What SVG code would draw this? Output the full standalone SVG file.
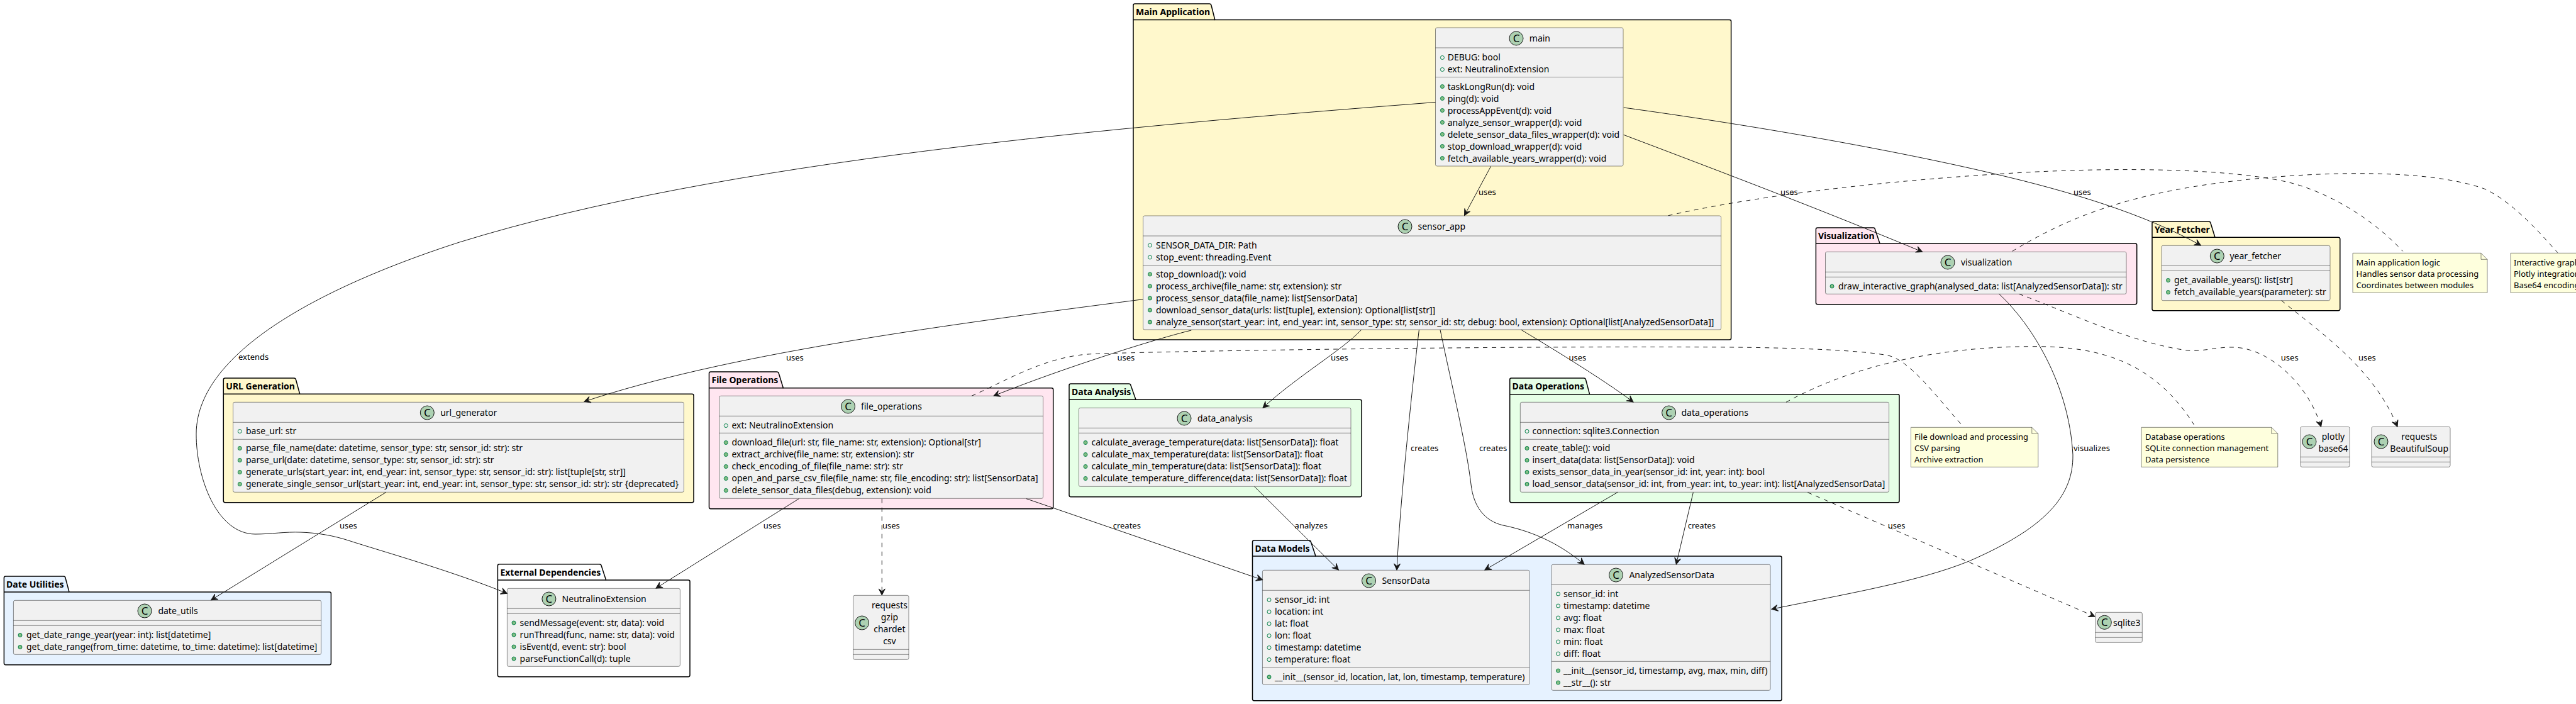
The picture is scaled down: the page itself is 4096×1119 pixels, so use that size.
<svg xmlns="http://www.w3.org/2000/svg" width="4096" height="1119" viewBox="0 0 4096 1119">
<style>
text{font-family:"Noto Sans","Open Sans",sans-serif;fill:#000}
.m{font-size:14px}
.n{font-size:14px}
.t{font-size:14px;font-weight:700}
.l{font-size:13px}
.o{font-size:13px}
.ct{text-anchor:middle}
.c{font-size:17px;text-anchor:middle}
.b{fill:#f1f1f1;stroke:#181818;stroke-width:.5}
.d{stroke:#181818;stroke-width:.5;fill:none}
.i{fill:#add1b2;stroke:#181818;stroke-width:1}
.fd{fill:none;stroke:#038048;stroke-width:1}
.md{fill:#84be84;stroke:#038048;stroke-width:1}
.p{stroke:#000;stroke-width:1.5}
.y{fill:#fff8cc}
.k{fill:#ffe6f0}
.g{fill:#e6ffe6}
.s{fill:#e6f2ff}
.w{fill:#fff}
.nt{fill:#feffdd;stroke:#181818;stroke-width:.5}
.a{fill:none;stroke:#181818;stroke-width:1;marker-end:url(#h)}
.e{fill:none;stroke:#181818;stroke-width:1;stroke-dasharray:7 7;marker-end:url(#h)}
.q{fill:none;stroke:#181818;stroke-width:1;stroke-dasharray:7 7}
</style>
<defs>
<marker id="h" markerUnits="userSpaceOnUse" markerWidth="14" markerHeight="12" refX="10" refY="5" orient="auto" overflow="visible"><path d="M10 5L0 0L4 5L0 10Z" fill="#181818" stroke="#181818" stroke-width="1"/></marker>
</defs>

<g id="pkg-main">
<path class="p y" d="M1802 31.5V8.5Q1802 6 1804.500 6H1923Q1925.400 6 1926 8.500L1931.800 31.500H2750Q2752.600 31.500 2752.600 34V537.500Q2752.600 540 2750 540H1804.500Q1802 540 1802 537.500Z"/><path class="p" d="M1802 31.500H1931.800"/>
<text class="t" x="1806" y="24">Main Application</text>
<g id="main">
<rect class="b" x="2282.500" y="44" width="298.500" height="220" rx="2.500"/>
<path class="d" d="M2282.500 76H2581M2282.500 122.500H2581"/>
<circle class="i" cx="2411" cy="61" r="11"/><text class="c" x="2411" y="67">C</text>
<text class="n" x="2431.800" y="66">main</text>
<circle class="fd" cx="2293.400" cy="91.500" r="3"/><text class="m" x="2301.700" y="96">DEBUG: bool</text>
<circle class="fd" cx="2293.400" cy="110.500" r="3"/><text class="m" x="2301.700" y="115">ext: NeutralinoExtension</text>
<circle class="md" cx="2293.400" cy="137.500" r="3"/><text class="m" x="2301.700" y="142.500">taskLongRun(d): void</text>
<circle class="md" cx="2293.400" cy="156.500" r="3"/><text class="m" x="2301.700" y="161.500">ping(d): void</text>
<circle class="md" cx="2293.400" cy="175.500" r="3"/><text class="m" x="2301.700" y="180.500">processAppEvent(d): void</text>
<circle class="md" cx="2293.400" cy="194.500" r="3"/><text class="m" x="2301.700" y="199.500">analyze_sensor_wrapper(d): void</text>
<circle class="md" cx="2293.400" cy="213.500" r="3"/><text class="m" x="2301.700" y="218.500">delete_sensor_data_files_wrapper(d): void</text>
<circle class="md" cx="2293.400" cy="232.500" r="3"/><text class="m" x="2301.700" y="237.500">stop_download_wrapper(d): void</text>
<circle class="md" cx="2293.400" cy="251.500" r="3"/><text class="m" x="2301.700" y="256.500">fetch_available_years_wrapper(d): void</text>
</g>
<g id="sensor_app">
<rect class="b" x="1817.600" y="343" width="919" height="181" rx="2.500"/>
<path class="d" d="M1817.600 375H2736.600M1817.600 422H2736.600"/>
<circle class="i" cx="2234" cy="360" r="11"/><text class="c" x="2234" y="366">C</text>
<text class="n" x="2254.500" y="365">sensor_app</text>
<circle class="fd" cx="1828.500" cy="390" r="3"/><text class="m" x="1838" y="394.500">SENSOR_DATA_DIR: Path</text>
<circle class="fd" cx="1828.500" cy="409" r="3"/><text class="m" x="1838" y="413.500">stop_event: threading.Event</text>
<circle class="md" cx="1828.500" cy="436" r="3"/><text class="m" x="1838" y="440.500">stop_download(): void</text>
<circle class="md" cx="1828.500" cy="455" r="3"/><text class="m" x="1838" y="459.500">process_archive(file_name: str, extension): str</text>
<circle class="md" cx="1828.500" cy="474" r="3"/><text class="m" x="1838" y="478.500">process_sensor_data(file_name): list[SensorData]</text>
<circle class="md" cx="1828.500" cy="493" r="3"/><text class="m" x="1838" y="497.500">download_sensor_data(urls: list[tuple], extension): Optional[list[str]]</text>
<circle class="md" cx="1828.500" cy="512" r="3"/><text class="m" x="1838" y="516.500">analyze_sensor(start_year: int, end_year: int, sensor_type: str, sensor_id: str, debug: bool, extension): Optional[list[AnalyzedSensorData]]</text>
</g>
</g>

<g id="pkg-visualization">
<path class="p k" d="M2887.400 387V364.500Q2887.400 362 2890 362H2979Q2981 362 2981.500 364.500L2989 387H3395Q3397.700 387 3397.700 389.500V481Q3397.700 483.700 3395 483.700H2890Q2887.400 483.700 2887.400 481Z"/><path class="p" d="M2887.400 387H2989"/>
<text class="t" x="2891" y="379.500">Visualization</text>
<g id="visualization">
<rect class="b" x="2902.500" y="400.300" width="478.500" height="67" rx="2.500"/>
<path class="d" d="M2902.500 432.300H3381M2902.500 440.300H3381"/>
<circle class="i" cx="3097" cy="417" r="11"/><text class="c" x="3097" y="423">C</text>
<text class="n" x="3118" y="422">visualization</text>
<circle class="md" cx="2913" cy="455" r="3"/><text class="m" x="2923" y="459.500">draw_interactive_graph(analysed_data: list[AnalyzedSensorData]): str</text>
</g>
</g>

<g id="pkg-year-fetcher">
<path class="p y" d="M3422 377.300V354.500Q3422 352 3424.500 352H3512Q3514.400 352 3515 354.500L3522 377.300H3718Q3720.800 377.300 3720.800 380V491Q3720.800 493.700 3718 493.700H3424.500Q3422 493.700 3422 491Z"/><path class="p" d="M3422 377.300H3522"/>
<text class="t" x="3426" y="369.500">Year Fetcher</text>
<g id="year_fetcher">
<rect class="b" x="3437" y="390.300" width="268" height="87.400" rx="2.500"/>
<path class="d" d="M3437 422.300H3705M3437 430.300H3705"/>
<circle class="i" cx="3525.300" cy="407" r="11"/><text class="c" x="3525.300" y="413">C</text>
<text class="n" x="3545.400" y="412">year_fetcher</text>
<circle class="md" cx="3447.500" cy="445.500" r="3"/><text class="m" x="3457" y="450">get_available_years(): list[str]</text>
<circle class="md" cx="3447.500" cy="464.500" r="3"/><text class="m" x="3457" y="469">fetch_available_years(parameter): str</text>
</g>
</g>

<g id="pkg-url">
<path class="p y" d="M355.300 626.300V603.500Q355.300 601 358 601H467.500Q470 601 470.500 603.500L476.700 626.300H1100.500Q1103 626.300 1103 629V796Q1103 798.700 1100.500 798.700H358Q355.300 798.700 355.300 796Z"/><path class="p" d="M355.300 626.300H476.700"/>
<text class="t" x="359.300" y="618.500">URL Generation</text>
<g id="url_generator">
<rect class="b" x="370.600" y="639.300" width="716.800" height="143" rx="2.500"/>
<path class="d" d="M370.600 671.300H1087.400M370.600 698.300H1087.400"/>
<circle class="i" cx="679.300" cy="656" r="11"/><text class="c" x="679.300" y="662">C</text>
<text class="n" x="700.200" y="661">url_generator</text>
<circle class="fd" cx="381.300" cy="685.500" r="3"/><text class="m" x="391" y="690">base_url: str</text>
<circle class="md" cx="381.300" cy="712.500" r="3"/><text class="m" x="391" y="717">parse_file_name(date: datetime, sensor_type: str, sensor_id: str): str</text>
<circle class="md" cx="381.300" cy="731.500" r="3"/><text class="m" x="391" y="736">parse_url(date: datetime, sensor_type: str, sensor_id: str): str</text>
<circle class="md" cx="381.300" cy="750.500" r="3"/><text class="m" x="391" y="755">generate_urls(start_year: int, end_year: int, sensor_type: str, sensor_id: str): list[tuple[str, str]]</text>
<circle class="md" cx="381.300" cy="769.500" r="3"/><text class="m" x="391" y="774">generate_single_sensor_url(start_year: int, end_year: int, sensor_type: str, sensor_id: str): str {deprecated}</text>
</g>
</g>

<g id="pkg-file">
<path class="p k" d="M1127.500 616.700V593.500Q1127.500 591 1130 591H1235Q1237.700 591 1238.300 593.500L1245.400 616.700H1672Q1674.700 616.700 1674.700 619.200V806Q1674.700 808.700 1672 808.700H1130Q1127.500 808.700 1127.500 806Z"/><path class="p" d="M1127.500 616.700H1245.400"/>
<text class="t" x="1131.500" y="609">File Operations</text>
<g id="file_operations">
<rect class="b" x="1143.700" y="629.300" width="514.900" height="163" rx="2.500"/>
<path class="d" d="M1143.700 661.300H1658.600M1143.700 688.300H1658.600"/>
<circle class="i" cx="1348.500" cy="646" r="11"/><text class="c" x="1348.500" y="652">C</text>
<text class="n" x="1368.900" y="651">file_operations</text>
<circle class="fd" cx="1154.300" cy="676.500" r="3"/><text class="m" x="1163.500" y="681">ext: NeutralinoExtension</text>
<circle class="md" cx="1154.300" cy="703.500" r="3"/><text class="m" x="1163.500" y="708">download_file(url: str, file_name: str, extension): Optional[str]</text>
<circle class="md" cx="1154.300" cy="722.500" r="3"/><text class="m" x="1163.500" y="727">extract_archive(file_name: str, extension): str</text>
<circle class="md" cx="1154.300" cy="741.500" r="3"/><text class="m" x="1163.500" y="746">check_encoding_of_file(file_name: str): str</text>
<circle class="md" cx="1154.300" cy="760.500" r="3"/><text class="m" x="1163.500" y="765">open_and_parse_csv_file(file_name: str, file_encoding: str): list[SensorData]</text>
<circle class="md" cx="1154.300" cy="779.500" r="3"/><text class="m" x="1163.500" y="784">delete_sensor_data_files(debug, extension): void</text>
</g>
</g>

<g id="pkg-analysis">
<path class="p g" d="M1700 635.300V612.500Q1700 610 1702.500 610H1795Q1797.500 610 1798 612.500L1806 635.300H2162.500Q2165 635.300 2165 638V787Q2165 789.700 2162.500 789.700H1702.500Q1700 789.700 1700 787Z"/><path class="p" d="M1700 635.300H1806"/>
<text class="t" x="1704" y="628">Data Analysis</text>
<g id="data_analysis">
<rect class="b" x="1715.400" y="648.300" width="432.600" height="125" rx="2.500"/>
<path class="d" d="M1715.400 680.300H2148M1715.400 688.300H2148"/>
<circle class="i" cx="1883" cy="665" r="11"/><text class="c" x="1883" y="671">C</text>
<text class="n" x="1904" y="670">data_analysis</text>
<circle class="md" cx="1726" cy="703.500" r="3"/><text class="m" x="1735.500" y="708">calculate_average_temperature(data: list[SensorData]): float</text>
<circle class="md" cx="1726" cy="722.500" r="3"/><text class="m" x="1735.500" y="727">calculate_max_temperature(data: list[SensorData]): float</text>
<circle class="md" cx="1726" cy="741.500" r="3"/><text class="m" x="1735.500" y="746">calculate_min_temperature(data: list[SensorData]): float</text>
<circle class="md" cx="1726" cy="760.500" r="3"/><text class="m" x="1735.500" y="765">calculate_temperature_difference(data: list[SensorData]): float</text>
</g>
</g>

<g id="pkg-data-ops">
<path class="p g" d="M2400.700 626.700V603.500Q2400.700 601 2403 601H2518.500Q2521 601 2521.500 603.500L2527.600 626.700H3017.500Q3020 626.700 3020 629.200V796Q3020 798.700 3017.500 798.700H2403Q2400.700 798.700 2400.700 796Z"/><path class="p" d="M2400.700 626.700H2527.600"/>
<text class="t" x="2404.500" y="618.500">Data Operations</text>
<g id="data_operations">
<rect class="b" x="2417.300" y="639.300" width="586.300" height="143" rx="2.500"/>
<path class="d" d="M2417.300 671.300H3003.600M2417.300 698.300H3003.600"/>
<circle class="i" cx="2653.600" cy="656" r="11"/><text class="c" x="2653.600" y="662">C</text>
<text class="n" x="2673.500" y="661">data_operations</text>
<circle class="fd" cx="2428" cy="685.500" r="3"/><text class="m" x="2436.500" y="690">connection: sqlite3.Connection</text>
<circle class="md" cx="2428" cy="712.500" r="3"/><text class="m" x="2436.500" y="717">create_table(): void</text>
<circle class="md" cx="2428" cy="731.500" r="3"/><text class="m" x="2436.500" y="736">insert_data(data: list[SensorData]): void</text>
<circle class="md" cx="2428" cy="750.500" r="3"/><text class="m" x="2436.500" y="755">exists_sensor_data_in_year(sensor_id: int, year: int): bool</text>
<circle class="md" cx="2428" cy="769.500" r="3"/><text class="m" x="2436.500" y="774">load_sensor_data(sensor_id: int, from_year: int, to_year: int): list[AnalyzedSensorData]</text>
</g>
</g>

<g id="pkg-date">
<path class="p s" d="M6.400 941V918.500Q6.400 916 9 916H101Q103.600 916 104 918.500L110 941H524Q526.400 941 526.400 943.500V1054Q526.400 1056.700 524 1056.700H9Q6.400 1056.700 6.400 1054Z"/><path class="p" d="M6.400 941H110"/>
<text class="t" x="10" y="933.500">Date Utilities</text>
<g id="date_utils">
<rect class="b" x="21.400" y="954.300" width="489.300" height="86" rx="2.500"/>
<path class="d" d="M21.400 986.300H510.700M21.400 994.300H510.700"/>
<circle class="i" cx="230" cy="971" r="11"/><text class="c" x="230" y="977">C</text>
<text class="n" x="251.400" y="976">date_utils</text>
<circle class="md" cx="32" cy="1009.500" r="3"/><text class="m" x="42" y="1014">get_date_range_year(year: int): list[datetime]</text>
<circle class="md" cx="32" cy="1028.500" r="3"/><text class="m" x="42" y="1033">get_date_range(from_time: datetime, to_time: datetime): list[datetime]</text>
</g>
</g>

<g id="pkg-external">
<path class="p w" d="M791.400 922V899.200Q791.400 896.700 794 896.700H953Q955.700 896.700 956.200 899.200L963.600 922H1094.500Q1097 922 1097 924.500V1073Q1097 1075.700 1094.500 1075.700H794Q791.400 1075.700 791.400 1073Z"/><path class="p" d="M791.400 922H963.600"/>
<text class="t" x="795.400" y="914.500">External Dependencies</text>
<g id="NeutralinoExtension">
<rect class="b" x="806.400" y="935.300" width="275" height="124" rx="2.500"/>
<path class="d" d="M806.400 967.300H1081.400M806.400 975.300H1081.400"/>
<circle class="i" cx="872.900" cy="952" r="11"/><text class="c" x="872.900" y="958">C</text>
<text class="n" x="893.600" y="957">NeutralinoExtension</text>
<circle class="md" cx="817" cy="990" r="3"/><text class="m" x="826.600" y="994.500">sendMessage(event: str, data): void</text>
<circle class="md" cx="817" cy="1009" r="3"/><text class="m" x="826.600" y="1013.500">runThread(func, name: str, data): void</text>
<circle class="md" cx="817" cy="1028" r="3"/><text class="m" x="826.600" y="1032.500">isEvent(d, event: str): bool</text>
<circle class="md" cx="817" cy="1047" r="3"/><text class="m" x="826.600" y="1051.500">parseFunctionCall(d): tuple</text>
</g>
</g>

<g id="pkg-models">
<path class="p s" d="M1991.500 884V861.500Q1991.500 859 1994 859H2081.500Q2084 859 2084.500 861.500L2092 884H2830.500Q2833 884 2833 886.500V1111Q2833 1113.700 2830.500 1113.700H1994Q1991.500 1113.700 1991.500 1111Z"/><path class="p" d="M1991.500 884H2092"/>
<text class="t" x="1995.500" y="876.500">Data Models</text>
<g id="SensorData">
<rect class="b" x="2007.400" y="906.300" width="424.600" height="182" rx="2.500"/>
<path class="d" d="M2007.400 938.300H2432M2007.400 1061.300H2432"/>
<circle class="i" cx="2176.500" cy="923" r="11"/><text class="c" x="2176.500" y="929">C</text>
<text class="n" x="2197.400" y="928">SensorData</text>
<circle class="fd" cx="2018" cy="953.500" r="3"/><text class="m" x="2027" y="958">sensor_id: int</text>
<circle class="fd" cx="2018" cy="972.500" r="3"/><text class="m" x="2027" y="977">location: int</text>
<circle class="fd" cx="2018" cy="991.500" r="3"/><text class="m" x="2027" y="996">lat: float</text>
<circle class="fd" cx="2018" cy="1010.500" r="3"/><text class="m" x="2027" y="1015">lon: float</text>
<circle class="fd" cx="2018" cy="1029.500" r="3"/><text class="m" x="2027" y="1034">timestamp: datetime</text>
<circle class="fd" cx="2018" cy="1048.500" r="3"/><text class="m" x="2027" y="1053">temperature: float</text>
<circle class="md" cx="2018" cy="1076" r="3"/><text class="m" x="2027" y="1080.500">__init__(sensor_id, location, lat, lon, timestamp, temperature)</text>
</g>
<g id="AnalyzedSensorData">
<rect class="b" x="2467" y="897.300" width="348" height="200" rx="2.500"/>
<path class="d" d="M2467 929.300H2815M2467 1051.300H2815"/>
<circle class="i" cx="2569.500" cy="914" r="11"/><text class="c" x="2569.500" y="920">C</text>
<text class="n" x="2590.400" y="919">AnalyzedSensorData</text>
<circle class="fd" cx="2477.500" cy="944" r="3"/><text class="m" x="2486" y="948.500">sensor_id: int</text>
<circle class="fd" cx="2477.500" cy="963" r="3"/><text class="m" x="2486" y="967.500">timestamp: datetime</text>
<circle class="fd" cx="2477.500" cy="982" r="3"/><text class="m" x="2486" y="986.500">avg: float</text>
<circle class="fd" cx="2477.500" cy="1001" r="3"/><text class="m" x="2486" y="1005.500">max: float</text>
<circle class="fd" cx="2477.500" cy="1020" r="3"/><text class="m" x="2486" y="1024.500">min: float</text>
<circle class="fd" cx="2477.500" cy="1039" r="3"/><text class="m" x="2486" y="1043.500">diff: float</text>
<circle class="md" cx="2477.500" cy="1066" r="3"/><text class="m" x="2486" y="1070.500">__init__(sensor_id, timestamp, avg, max, min, diff)</text>
<circle class="md" cx="2477.500" cy="1085" r="3"/><text class="m" x="2486" y="1089.500">__str__(): str</text>
</g>
</g>

<g id="ext-requests">
<rect class="b" x="1356.700" y="946.300" width="88.300" height="102" rx="2.500"/>
<path class="d" d="M1356.700 1032.300H1445M1356.700 1040.300H1445"/>
<circle class="i" cx="1370.600" cy="990" r="11"/><text class="c" x="1370.600" y="996">C</text>
<text class="n ct" x="1414.400" y="966.500">requests</text>
<text class="n ct" x="1414.400" y="985.500">gzip</text>
<text class="n ct" x="1414.400" y="1004.500">chardet</text>
<text class="n ct" x="1414.400" y="1023.500">csv</text>
</g>
<g id="ext-plotly">
<rect class="b" x="3657.900" y="678.300" width="78.100" height="64" rx="2.500"/>
<path class="d" d="M3657.900 726.300H3736M3657.900 734.300H3736"/>
<circle class="i" cx="3672" cy="702" r="11"/><text class="c" x="3672" y="708">C</text>
<text class="n ct" x="3710" y="698.500">plotly</text>
<text class="n ct" x="3710" y="717.500">base64</text>
</g>
<g id="ext-requests-bs">
<rect class="b" x="3771" y="678.300" width="125" height="64" rx="2.500"/>
<path class="d" d="M3771 726.300H3896M3771 734.300H3896"/>
<circle class="i" cx="3786" cy="702" r="11"/><text class="c" x="3786" y="708">C</text>
<text class="n ct" x="3846.700" y="698.500">requests</text>
<text class="n ct" x="3846.700" y="717.500">BeautifulSoup</text>
</g>
<g id="ext-sqlite3">
<rect class="b" x="3331.700" y="973.300" width="74.600" height="48" rx="2.500"/>
<path class="d" d="M3331.700 1005.300H3406.300M3331.700 1013.300H3406.300"/>
<circle class="i" cx="3346.300" cy="989.300" r="11"/><text class="c" x="3346.300" y="995.300">C</text>
<text class="n" x="3360" y="994.500">sqlite3</text>
</g>

<g id="note-main">
<path class="nt" d="M3741 402.300H3945L3955 412.300V465.300H3741Z"/><path class="d" d="M3945 402.300V412.300H3955"/>
<text class="o" x="3746.500" y="421.500">Main application logic</text>
<text class="o" x="3746.500" y="439.500">Handles sensor data processing</text>
<text class="o" x="3746.500" y="457.500">Coordinates between modules</text>
</g>
<g id="note-visualization">
<path class="nt" d="M3992 402.300H4200L4210 412.300V465.300H3992Z"/>
<text class="o" x="3997" y="421.500">Interactive graph</text>
<text class="o" x="3997" y="439.500">Plotly integration</text>
<text class="o" x="3997" y="457.500">Base64 encoding</text>
</g>
<g id="note-file">
<path class="nt" d="M3038.500 679.300H3230.800L3240.800 689.300V742.300H3038.500Z"/><path class="d" d="M3230.800 679.300V689.300H3240.800"/>
<text class="o" x="3044" y="698.500">File download and processing</text>
<text class="o" x="3044" y="716.500">CSV parsing</text>
<text class="o" x="3044" y="734.500">Archive extraction</text>
</g>
<g id="note-data">
<path class="nt" d="M3405 679.300H3611.800L3621.800 689.300V742.300H3405Z"/><path class="d" d="M3611.800 679.300V689.300H3621.800"/>
<text class="o" x="3411" y="698.500">Database operations</text>
<text class="o" x="3411" y="716.500">SQLite connection management</text>
<text class="o" x="3411" y="734.500">Data persistence</text>
</g>

<g id="connectors">
<path class="a" d="M2282.500 162.500C1782 201 1150 255 730.500 385C560 440 312 545 312 690C312 760 345 849 406 849C430 849 455 845 478 846C505 847 530 851 557 860C600 874 720 908 806.400 943.300"/>
<path class="a" d="M2370.600 264.300L2328.500 342.500"/>
<path class="a" d="M2581.700 171C2780 198 3010 238 3173 276.700C3290 304 3410 340 3499.400 390"/>
<path class="a" d="M2581.700 214.300C2750 278 2900 335 3056.600 400.300"/>
<path class="a" d="M1817.600 475.700C1467 521 1150 565 929 638.300"/>
<path class="a" d="M1894.300 525C1840 538 1690 585 1580 629.300"/>
<path class="a" d="M2164.600 524.300C2135 556 2060 600 2008 648.300"/>
<path class="a" d="M2419 524.300C2455 546 2545 600 2597 639"/>
<path class="a" d="M2256.400 524.300C2245 620 2226 800 2221 906"/>
<path class="a" d="M2290 524.300C2310 620 2332 710 2339 770C2343 805 2360 828 2390 835C2430 843 2475 860 2519 897"/>
<path class="a" d="M1994.500 773.300L2128.400 906"/>
<path class="a" d="M1632 792.700L2007.400 921.700"/>
<path class="a" d="M1270.300 792.700L1043 935"/>
<path class="e" d="M1402.300 792.700V946"/>
<path class="a" d="M614 782.300L335.700 953.700"/>
<path class="a" d="M2572.400 782.300L2360.900 906"/>
<path class="a" d="M2692.300 782.700L2665.300 897"/>
<path class="e" d="M2874.300 782.700L3331 980"/>
<path class="a" d="M3178.700 467.300C3230 515 3290 610 3296 723C3297 790 3250 840 3131.500 891.700C3050 925 2930 945 2816.900 968.300"/>
<path class="e" d="M3210.500 467.300C3290 497 3390 545 3476 556.700C3505 560 3530 549 3560.500 552.700C3610 558 3670 610 3690.600 678.300"/>
<path class="e" d="M3627.700 477.700C3685 525 3775 585 3812 678.300"/>
<path class="q" d="M2652.700 342.700C2760 318 2950 290 3202.600 275C3300 269 3520 262 3640 290C3700 305 3770 345 3820.600 399.300"/>
<path class="q" d="M3199.700 399.300C3290 345 3400 295 3650 279C3760 272 3880 275 3950 300C3990 318 4030 360 4066.800 401.700"/>
<path class="q" d="M1545 629.300C1600 605 1660 568 1730 563C1770 560 2300 550 2711.700 551.700C2820 552 2950 555 3002 565C3035 572 3075 625 3118 674"/>
<path class="q" d="M2840 639.300C2930 590 3060 550 3242 550.700C3340 552 3425 575 3488.600 675"/>
<text class="l" x="2351" y="310">uses</text>
<text class="l" x="2831" y="310">uses</text>
<text class="l" x="3297" y="310">uses</text>
<text class="l" x="379" y="572">extends</text>
<text class="l" x="1250" y="573">uses</text>
<text class="l" x="1776.500" y="573">uses</text>
<text class="l" x="2116" y="573">uses</text>
<text class="l" x="2494.500" y="573">uses</text>
<text class="l" x="3626.800" y="573">uses</text>
<text class="l" x="3750" y="573">uses</text>
<text class="l" x="2243" y="717">creates</text>
<text class="l" x="2352" y="717">creates</text>
<text class="l" x="3297" y="717">visualizes</text>
<text class="l" x="540" y="840">uses</text>
<text class="l" x="1213.800" y="840">uses</text>
<text class="l" x="1403" y="840">uses</text>
<text class="l" x="1769.700" y="840">creates</text>
<text class="l" x="2058.600" y="840">analyzes</text>
<text class="l" x="2492" y="840">manages</text>
<text class="l" x="2683.700" y="840">creates</text>
<text class="l" x="3001.700" y="840">uses</text>
</g>
</svg>
